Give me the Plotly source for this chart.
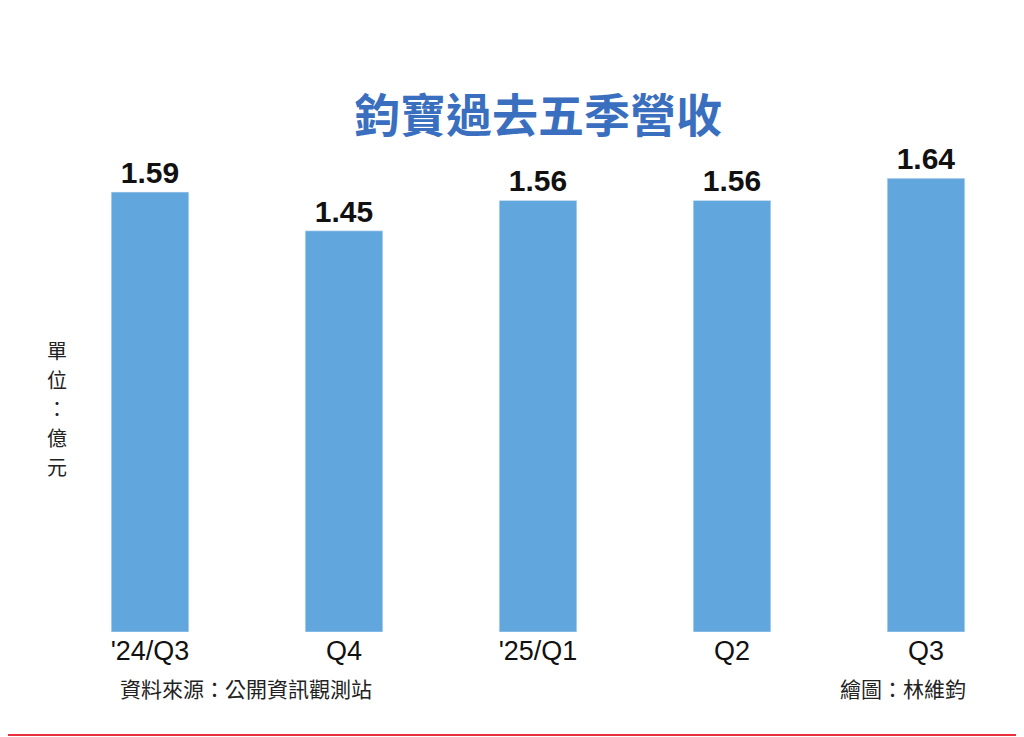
import plotly.graph_objects as go

categories = ["'24/Q3", "Q4", "'25/Q1", "Q2", "Q3"]
values = [1.59, 1.45, 1.56, 1.56, 1.64]
labels = ["1.59", "1.45", "1.56", "1.56", "1.64"]
unit_chars = ["單", "位", "：", "億", "元"]

fig = go.Figure(go.Bar(
    x=categories, y=values, width=0.4, marker_color="#62a6de",
    text=labels, textposition="outside", cliponaxis=False,
    textfont=dict(size=30, color="#111", family="Liberation Sans"),
))
fig.update_traces(texttemplate="<b>%{text}</b>")
ann = [
    dict(text="<b>鈞寶過去五季營收</b>", xref="paper", yref="paper", x=0.5, xanchor="center",
         y=1, yshift=57, showarrow=False, font=dict(size=46, color="#3a6fc0", family="Noto Sans CJK TC")),
    dict(text="資料來源：公開資訊觀測站", xref="paper", yref="paper", x=0.067, xanchor="left",
         y=0, yshift=-73, showarrow=False, font=dict(size=21, color="#222", family="Noto Sans CJK TC")),
    dict(text="繪圖：林維鈞", xref="paper", yref="paper", x=0.943, xanchor="right",
         y=0, yshift=-73, showarrow=False, font=dict(size=21, color="#222", family="Noto Sans CJK TC")),
]
for i, ch in enumerate(unit_chars):
    ann.append(dict(text=ch, xref="paper", yref="paper", x=0, xshift=-8, y=(624 - (342 + i * 29)) / 498,
                    yanchor="middle", showarrow=False,
                    font=dict(size=20, color="#222", family="Noto Sans CJK TC")))
fig.update_layout(
    width=1024, height=737, paper_bgcolor="white", plot_bgcolor="white",
    margin=dict(l=45, r=9, t=126, b=113), showlegend=False,
    xaxis=dict(range=[-0.5, 4.5], showline=False, ticks="", tickfont=dict(size=27, color="#111", family="Liberation Sans")),
    yaxis=dict(range=[0, 1.8], visible=False),
    annotations=ann,
)
fig.add_shape(type="rect", xref="paper", yref="paper", x0=-0.0536, x1=0.998, y0=-0.207, y1=1.267,
              line=dict(color="#e8303a", width=2))
fig.write_html("out.html")
